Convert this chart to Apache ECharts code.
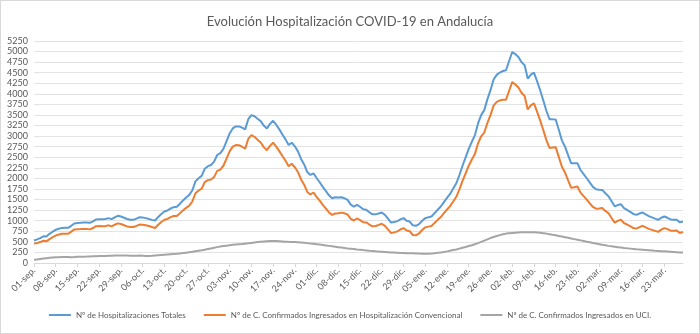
<!DOCTYPE html>
<html>
<head>
<meta charset="utf-8">
<script src="https://cdn.jsdelivr.net/npm/echarts@6/dist/echarts.min.js"></script>
<style>
html,body{margin:0;padding:0;background:#fff;}
#c{position:absolute;left:0;top:0;width:698px;height:332px;border:1px solid #d9d9d9;}
</style>
</head>
<body>
<div id="c"></div>
<script>
// Dates: 01-sep (2020) to 29-mar (2021), one value per day
const startDate = [2020, 8, 1];
const dayCount = 210;
const monthNames = ['ene','feb','mar','abr','may','jun','jul','ago','sep','oct','nov','dic'];
const yTicks = {min: 0, max: 5250, interval: 250};

const totales = [
533,560,590,630,627,690,740,785,810,830,832,832,880,935,945,950,957,957,950,985,
1030,1037,1037,1040,1061,1037,1080,1115,1100,1070,1040,1021,1021,1050,1084,1075,1061,1040,1020,1005,
1090,1160,1217,1241,1290,1320,1330,1400,1480,1550,1611,1720,1930,2004,2060,2230,2290,2318,2396,2554,
2600,2700,2880,3060,3183,3230,3230,3200,3160,3400,3497,3470,3410,3356,3250,3183,3290,3364,3270,3160,
3040,2924,2790,2845,2760,2640,2460,2330,2150,2082,2122,2010,1910,1800,1700,1600,1533,1556,1550,1556,
1530,1492,1380,1335,1375,1330,1270,1257,1200,1150,1150,1170,1194,1139,1050,957,970,990,1030,1061,
1000,981,890,880,920,1000,1061,1080,1100,1180,1260,1335,1440,1540,1634,1760,1886,2080,2300,2500,
2700,2868,3025,3300,3497,3615,3870,4087,4338,4450,4504,4540,4558,4778,4990,4940,4872,4750,4676,4362,
4456,4504,4300,4087,3850,3600,3402,3398,3395,3150,2900,2750,2550,2358,2358,2360,2200,2100,2004,1900,
1800,1745,1735,1729,1650,1580,1460,1340,1370,1391,1300,1257,1210,1160,1139,1170,1194,1150,1110,1080,
1050,1021,1070,1100,1070,1030,1021,1021,960,981
];

const convencional = [
458,475,495,525,512,565,610,650,672,690,690,692,742,795,800,802,807,805,795,827,
870,874,872,872,891,865,905,937,922,894,865,849,851,878,909,903,893,875,850,827,
905,970,1022,1041,1085,1110,1112,1175,1245,1305,1356,1455,1650,1714,1760,1915,1960,1973,2036,2179,
2210,2300,2470,2640,2753,2790,2785,2750,2702,2935,3022,2985,2915,2851,2740,2668,2770,2844,2752,2645,
2530,2419,2290,2347,2265,2150,1975,1852,1680,1620,1667,1565,1475,1375,1285,1195,1138,1171,1175,1191,
1175,1147,1042,1005,1053,1015,965,959,910,867,874,900,929,879,795,707,724,748,792,826,
768,751,662,655,698,780,843,860,875,948,1020,1085,1178,1265,1344,1455,1566,1740,1940,2120,
2300,2448,2580,2830,2997,3085,3310,3497,3723,3810,3844,3860,3863,4073,4278,4222,4150,4025,3948,3632,
3726,3776,3578,3372,3145,2905,2720,2730,2740,2510,2275,2140,1955,1778,1793,1810,1665,1580,1499,1410,
1325,1285,1290,1299,1232,1175,1065,955,995,1026,945,910,870,827,813,850,880,842,808,784,
760,736,790,825,800,765,761,766,710,733
];

const uci = [
75,85,95,105,115,125,130,135,138,140,142,140,138,140,145,148,150,152,155,158,
160,163,165,168,170,172,175,178,178,176,175,172,170,172,175,172,168,165,170,178,
185,190,195,200,205,210,218,225,235,245,255,265,280,290,300,315,330,345,360,375,
390,400,410,420,430,440,445,450,458,465,475,485,495,505,510,515,520,520,518,515,
510,505,500,498,495,490,485,478,470,462,455,445,435,425,415,405,395,385,375,365,
355,345,338,330,322,315,305,298,290,283,276,270,265,260,255,250,246,242,238,235,
232,230,228,225,222,220,218,220,225,232,240,250,262,275,290,305,320,340,360,380,
400,420,445,470,500,530,560,590,615,640,660,680,695,705,712,718,722,725,728,730,
730,728,722,715,705,695,682,668,655,640,625,610,595,580,565,550,535,520,505,490,
475,460,445,430,418,405,395,385,375,365,355,347,340,333,326,320,314,308,302,296,
290,285,280,275,270,265,260,255,250,248
];

const seriesNames = [
  'Nº de Hospitalizaciones Totales',
  'Nº de C. Confirmados Ingresados en Hospitalización Convencional',
  'Nª de C. Confirmados Ingresados en UCI.'
];
const titleText = 'Evolución Hospitalización COVID-19 en Andalucía';

const categories = [];
for (let i = 0; i < dayCount; i++) {
  const d = new Date(Date.UTC(startDate[0], startDate[1], startDate[2] + i));
  const dd = String(d.getUTCDate()).padStart(2, '0');
  categories.push(dd + '-' + monthNames[d.getUTCMonth()] + '.');
}

const font = 'Lato, Liberation Sans, sans-serif';
const chart = echarts.init(document.getElementById('c'));
chart.setOption({
  animation: false,
  title: {
    text: titleText, left: 'center', top: 9,
    textStyle: {fontSize: 13, fontWeight: 'normal', color: '#595959', fontFamily: font}
  },
  grid: {left: 33, right: 16, top: 40, bottom: 70, containLabel: false},
  legend: {
    bottom: 9, left: 'center', itemGap: 18, itemWidth: 22, itemHeight: 2,
    icon: 'rect',
    textStyle: {fontSize: 8, color: '#595959', fontFamily: font},
    data: seriesNames
  },
  xAxis: {
    type: 'category', data: categories, boundaryGap: false,
    axisLine: {lineStyle: {color: '#d9d9d9'}},
    axisTick: {interval: 6, lineStyle: {color: '#d9d9d9'}, length: 4},
    axisLabel: {interval: 6, rotate: 45, fontSize: 9, color: '#595959', fontFamily: font, margin: 6}
  },
  yAxis: {
    type: 'value', min: yTicks.min, max: yTicks.max, interval: yTicks.interval,
    axisLine: {show: false}, axisTick: {show: false},
    splitLine: {lineStyle: {color: '#e3e3e3'}},
    axisLabel: {fontSize: 9, color: '#595959', fontFamily: font, margin: 6, formatter: v => String(v)}
  },
  series: [
    {name: seriesNames[0], type: 'line', data: totales, showSymbol: false, lineStyle: {width: 2, color: '#5b9bd5'}, itemStyle: {color: '#5b9bd5'}},
    {name: seriesNames[1], type: 'line', data: convencional, showSymbol: false, lineStyle: {width: 2, color: '#ed7d31'}, itemStyle: {color: '#ed7d31'}},
    {name: seriesNames[2], type: 'line', data: uci, showSymbol: false, lineStyle: {width: 2, color: '#a5a5a5'}, itemStyle: {color: '#a5a5a5'}}
  ]
});
</script>
</body>
</html>
